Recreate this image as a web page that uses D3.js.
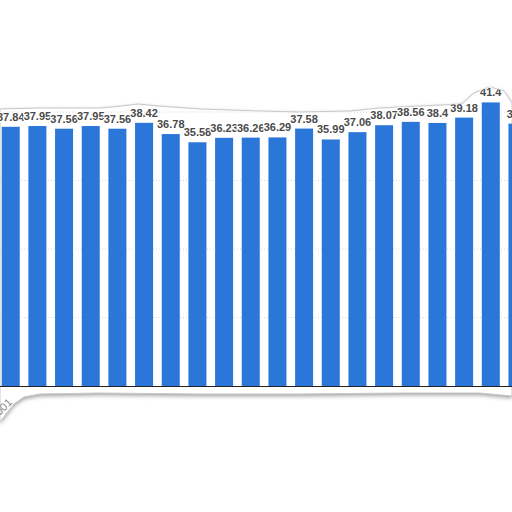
<!DOCTYPE html>
<html>
<head>
<meta charset="utf-8">
<script src="https://cdn.jsdelivr.net/npm/d3@7"></script>
<style>
  body { margin: 0; background: #fff; }
  svg { display: block; }
</style>
</head>
<body>
<svg id="chart" width="512" height="512"></svg>
<script>
// years along the x axis (only the first one peeks out from the torn edge)
const years = ["2001", "2002", "2003", "2004", "2005", "2006", "2007", "2008", "2009", "2010",
  "2011", "2012", "2013", "2014", "2015", "2016", "2017", "2018", "2019", "2020"];
const values = [37.84, 37.95, 37.56, 37.95, 37.56, 38.42, 36.78, 35.58, 36.23, 36.26,
  36.29, 37.58, 35.99, 37.06, 38.07, 38.56, 38.4, 39.18, 41.4, 38.3];
const gridTicks = [10, 20, 30, 40];

const width = 512, height = 512;
const baseY = 386;

const svg = d3.select("#chart");

// the torn scrap of paper the chart sits on
const tornEdge = [
  [0, 109], [40, 108], [100, 108], [122, 106], [138, 104], [158, 106], [200, 109],
  [260, 111], [300, 112], [350, 111], [380, 108], [420, 106], [462, 104], [474, 93],
  [490, 87], [504, 91], [512, 103],
  [512, 396], [480, 393], [400, 393], [300, 394], [200, 394], [100, 393], [40, 394],
  [24, 397], [14, 404], [6, 414], [0, 422]
];

const defs = svg.append("defs");
defs.append("filter").attr("id", "blur")
  .attr("x", "-10%").attr("y", "-10%").attr("width", "120%").attr("height", "120%")
  .append("feGaussianBlur").attr("stdDeviation", 2.2);
defs.append("clipPath").attr("id", "paper")
  .append("polygon").attr("points", tornEdge.map(p => p.join(",")).join(" "));

const line = d3.line().curve(d3.curveLinearClosed);

svg.append("path")
  .attr("d", line(tornEdge))
  .attr("transform", "translate(0,2)")
  .attr("fill", "#9a9a9a")
  .attr("filter", "url(#blur)");

svg.append("path")
  .attr("d", line(tornEdge))
  .attr("fill", "#fff")
  .attr("stroke", "#c8c8c8")
  .attr("stroke-width", 1);

const g = svg.append("g").attr("clip-path", "url(#paper)");

const x = d3.scaleBand()
  .domain(years)
  .range([-2.6, -2.6 + 26.67 * years.length])
  .paddingInner(0.325)
  .paddingOuter(0.1625);

const y = d3.scaleLinear()
  .domain([0, 40])
  .range([baseY, baseY - 274]);

// dotted grid lines
g.append("g")
  .selectAll("line")
  .data(gridTicks)
  .join("line")
  .attr("x1", 0).attr("x2", width)
  .attr("y1", d => y(d)).attr("y2", d => y(d))
  .attr("stroke", "#d6d6d6")
  .attr("stroke-dasharray", "1,2");

g.append("g")
  .selectAll("rect")
  .data(values)
  .join("rect")
  .attr("x", (d, i) => x(years[i]))
  .attr("y", d => y(d))
  .attr("width", x.bandwidth())
  .attr("height", d => baseY - y(d))
  .attr("fill", "#2b76d9");

// x axis line and rotated labels
g.append("line")
  .attr("x1", 0).attr("x2", width)
  .attr("y1", baseY + 0.5).attr("y2", baseY + 0.5)
  .attr("stroke", "#222");

g.append("g")
  .selectAll("text")
  .data(years)
  .join("text")
  .attr("transform", d => "translate(" + (x(d) + x.bandwidth() / 2 + 2) + "," + (baseY + 17) + ") rotate(-45)")
  .attr("text-anchor", "end")
  .attr("font-family", "Liberation Sans, Arial, sans-serif")
  .attr("font-size", 11)
  .attr("fill", "#888")
  .text(d => d);

// value labels with a white outline, later ones drawn over earlier ones
g.append("g")
  .selectAll("text")
  .data(values)
  .join("text")
  .attr("x", (d, i) => x(years[i]) + x.bandwidth() / 2)
  .attr("y", d => y(d) - 6)
  .attr("text-anchor", "middle")
  .attr("font-family", "Liberation Sans, Arial, sans-serif")
  .attr("font-size", 11)
  .attr("font-weight", "bold")
  .attr("fill", "#4a4a4a")
  .attr("stroke", "#fff")
  .attr("stroke-width", 2.5)
  .attr("stroke-linejoin", "round")
  .attr("paint-order", "stroke")
  .text(d => d);
</script>
</body>
</html>
